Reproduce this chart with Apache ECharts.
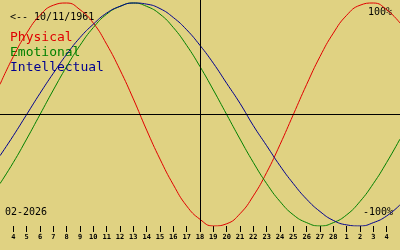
<!DOCTYPE html>
<html>
<head>
<meta charset="utf-8">
<script src="https://cdn.jsdelivr.net/npm/echarts@6/dist/echarts.min.js"></script>
<style>
html,body{margin:0;padding:0;background:#e0d282;}
#c{width:400px;height:250px;}
</style>
</head>
<body>
<div id="c"></div>
<script>
// Day labels: Feb 3, 2026 ... Mar 5, 2026 (first and last sit on the edges)
var dayLabels = ['3','4','5','6','7','8','9','10','11','12','13','14','15','16','17','18','19','20','21','22','23','24','25','26','27','28','1','2','3','4','5'];
// Values in percent, one per day
var physical = [27,52,73,89,98,100,94,82,63,40,14,-14,-40,-63,-82,-94,-100,-98,-89,-73,-52,-27,0,27,52,73,89,98,100,94,82];
var emotional = [-62,-43,-22,0,22,43,62,78,90,97,100,97,90,78,62,43,22,0,-22,-43,-62,-78,-90,-97,-100,-97,-90,-78,-62,-43,-22];
var intellectual = [-37,-19,0,19,37,54,69,81,91,97,100,99,95,87,76,62,46,28,10,-10,-28,-46,-62,-76,-87,-95,-99,-100,-97,-91,-81];
var todayIndex = 15;
var birthText = '<-- 10/11/1961';
var monthText = '02-2026';
var legendNames = ['Physical','Emotional','Intellectual'];
var colors = ['#e00000','#008000','#000090'];

var chart = echarts.init(document.getElementById('c'), null, {renderer:'canvas'});
function showTick(i){ return i > 0 && i < dayLabels.length - 1; }
var option = {
  backgroundColor: '#e0d282',
  animation: false,
  grid: {left: 0, right: 0, top: 0, bottom: 24},
  xAxis: {
    type: 'category',
    boundaryGap: false,
    data: dayLabels,
    axisLine: {show: false, onZero: false},
    axisTick: {show: true, length: 6, interval: showTick, lineStyle: {color: '#000', width: 1}},
    axisLabel: {interval: showTick, color: '#000', fontSize: 7, fontWeight: 'bold', fontFamily: 'DejaVu Sans Mono', margin: 8},
    splitLine: {show: false}
  },
  yAxis: {type: 'value', min: -100, max: 102.7, show: false},
  series: [
    {type: 'line', name: legendNames[0], data: physical, smooth: true, showSymbol: false, lineStyle: {color: colors[0], width: 1}, itemStyle:{color:colors[0]},
     markLine: {silent: true, symbol: 'none', label: {show: false}, lineStyle: {color: '#000', width: 1, type: 'solid'},
       data: [{xAxis: todayIndex}, {yAxis: 0}]}},
    {type: 'line', name: legendNames[1], data: emotional, smooth: true, showSymbol: false, lineStyle: {color: colors[1], width: 1}, itemStyle:{color:colors[1]}},
    {type: 'line', name: legendNames[2], data: intellectual, smooth: true, showSymbol: false, lineStyle: {color: colors[2], width: 1}, itemStyle:{color:colors[2]}}
  ],
  graphic: [
    {type: 'text', left: 10, top: 12, style: {text: birthText, fill: '#000', font: '10px "DejaVu Sans Mono"'}},
    {type: 'text', left: 10, top: 31, style: {text: legendNames[0], fill: colors[0], font: '13px "DejaVu Sans Mono"'}},
    {type: 'text', left: 10, top: 46, style: {text: legendNames[1], fill: colors[1], font: '13px "DejaVu Sans Mono"'}},
    {type: 'text', left: 10, top: 61, style: {text: legendNames[2], fill: colors[2], font: '13px "DejaVu Sans Mono"'}},
    {type: 'text', right: 8, top: 7, style: {text: '100%', fill: '#000', font: '10px "DejaVu Sans Mono"'}},
    {type: 'text', right: 7, top: 207, style: {text: '-100%', fill: '#000', font: '10px "DejaVu Sans Mono"'}},
    {type: 'text', left: 5, top: 207, style: {text: monthText, fill: '#000', font: '10px "DejaVu Sans Mono"'}}
  ]
};
chart.setOption(option);
</script>
</body>
</html>
